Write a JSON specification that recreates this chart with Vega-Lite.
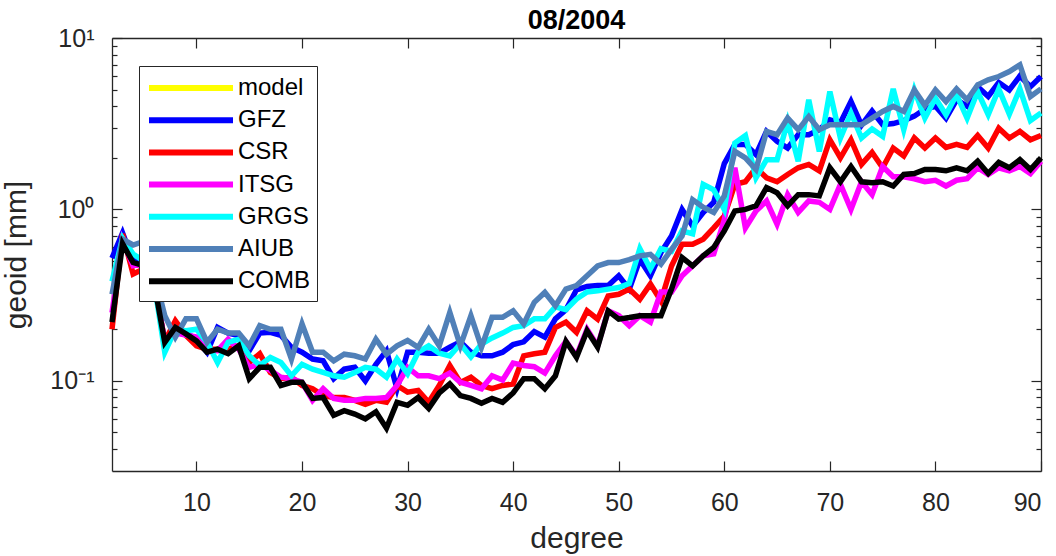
{
"$schema": "https://vega.github.io/schema/vega-lite/v6.json",
"width": 929, "height": 433,
"autosize": {"type": "none"},
"padding": {"left": 112, "top": 38, "right": 15, "bottom": 85},
"title": {"text": "08/2004", "font": "Liberation Sans", "fontSize": 27, "fontWeight": "bold", "color": "#000000", "anchor": "middle", "offset": -9},
"config": {
  "view": {"stroke": null},
  "font": "Liberation Sans",
  "axis": {"grid": false, "domainColor": "#262626", "domainWidth": 1.3, "tickColor": "#262626", "tickWidth": 1.2,
    "labelColor": "#262626", "labelFont": "Liberation Sans", "labelFontSize": 25, "titleColor": "#262626", "titleFont": "Liberation Sans", "titleFontSize": 30, "titleFontWeight": "normal"}
},
"data": {"values": [
{"degree":2,"series":"GFZ","geoid":0.52},{"degree":3,"series":"GFZ","geoid":0.73},{"degree":4,"series":"GFZ","geoid":0.5},{"degree":5,"series":"GFZ","geoid":0.5},{"degree":6,"series":"GFZ","geoid":0.4},{"degree":7,"series":"GFZ","geoid":0.16},{"degree":8,"series":"GFZ","geoid":0.196},{"degree":9,"series":"GFZ","geoid":0.19},{"degree":10,"series":"GFZ","geoid":0.175},{"degree":11,"series":"GFZ","geoid":0.147},
{"degree":12,"series":"GFZ","geoid":0.205},{"degree":13,"series":"GFZ","geoid":0.19},{"degree":14,"series":"GFZ","geoid":0.184},{"degree":15,"series":"GFZ","geoid":0.15},{"degree":16,"series":"GFZ","geoid":0.19},{"degree":17,"series":"GFZ","geoid":0.192},{"degree":18,"series":"GFZ","geoid":0.184},{"degree":19,"series":"GFZ","geoid":0.157},{"degree":20,"series":"GFZ","geoid":0.147},{"degree":21,"series":"GFZ","geoid":0.134},
{"degree":22,"series":"GFZ","geoid":0.131},{"degree":23,"series":"GFZ","geoid":0.103},{"degree":24,"series":"GFZ","geoid":0.117},{"degree":25,"series":"GFZ","geoid":0.12},{"degree":26,"series":"GFZ","geoid":0.1},{"degree":27,"series":"GFZ","geoid":0.125},{"degree":28,"series":"GFZ","geoid":0.15},{"degree":29,"series":"GFZ","geoid":0.09},{"degree":30,"series":"GFZ","geoid":0.147},{"degree":31,"series":"GFZ","geoid":0.147},
{"degree":32,"series":"GFZ","geoid":0.145},{"degree":33,"series":"GFZ","geoid":0.145},{"degree":34,"series":"GFZ","geoid":0.157},{"degree":35,"series":"GFZ","geoid":0.169},{"degree":36,"series":"GFZ","geoid":0.147},{"degree":37,"series":"GFZ","geoid":0.14},{"degree":38,"series":"GFZ","geoid":0.14},{"degree":39,"series":"GFZ","geoid":0.147},{"degree":40,"series":"GFZ","geoid":0.163},{"degree":41,"series":"GFZ","geoid":0.169},
{"degree":42,"series":"GFZ","geoid":0.194},{"degree":43,"series":"GFZ","geoid":0.18},{"degree":44,"series":"GFZ","geoid":0.23},{"degree":45,"series":"GFZ","geoid":0.26},{"degree":46,"series":"GFZ","geoid":0.34},{"degree":47,"series":"GFZ","geoid":0.355},{"degree":48,"series":"GFZ","geoid":0.36},{"degree":49,"series":"GFZ","geoid":0.36},{"degree":50,"series":"GFZ","geoid":0.41},{"degree":51,"series":"GFZ","geoid":0.343},
{"degree":52,"series":"GFZ","geoid":0.51},{"degree":53,"series":"GFZ","geoid":0.41},{"degree":54,"series":"GFZ","geoid":0.56},{"degree":55,"series":"GFZ","geoid":0.7},{"degree":56,"series":"GFZ","geoid":1.0},{"degree":57,"series":"GFZ","geoid":0.8},{"degree":58,"series":"GFZ","geoid":0.96},{"degree":59,"series":"GFZ","geoid":1.1},{"degree":60,"series":"GFZ","geoid":1.85},{"degree":61,"series":"GFZ","geoid":2.39},
{"degree":62,"series":"GFZ","geoid":2.39},{"degree":63,"series":"GFZ","geoid":2.09},{"degree":64,"series":"GFZ","geoid":2.85},{"degree":65,"series":"GFZ","geoid":2.5},{"degree":66,"series":"GFZ","geoid":2.28},{"degree":67,"series":"GFZ","geoid":2.73},{"degree":68,"series":"GFZ","geoid":2.73},{"degree":69,"series":"GFZ","geoid":2.92},{"degree":70,"series":"GFZ","geoid":3.33},{"degree":71,"series":"GFZ","geoid":3.2},
{"degree":72,"series":"GFZ","geoid":4.26},{"degree":73,"series":"GFZ","geoid":3.1},{"degree":74,"series":"GFZ","geoid":3.75},{"degree":75,"series":"GFZ","geoid":3.12},{"degree":76,"series":"GFZ","geoid":3.17},{"degree":77,"series":"GFZ","geoid":3.3},{"degree":78,"series":"GFZ","geoid":3.5},{"degree":79,"series":"GFZ","geoid":3.85},{"degree":80,"series":"GFZ","geoid":4.0},{"degree":81,"series":"GFZ","geoid":3.4},
{"degree":82,"series":"GFZ","geoid":4.36},{"degree":83,"series":"GFZ","geoid":4.0},{"degree":84,"series":"GFZ","geoid":5.2},{"degree":85,"series":"GFZ","geoid":4.56},{"degree":86,"series":"GFZ","geoid":5.5},{"degree":87,"series":"GFZ","geoid":4.98},{"degree":88,"series":"GFZ","geoid":6.0},{"degree":89,"series":"GFZ","geoid":5.2},{"degree":90,"series":"GFZ","geoid":5.96},
{"degree":2,"series":"CSR","geoid":0.2},{"degree":3,"series":"CSR","geoid":0.72},{"degree":4,"series":"CSR","geoid":0.42},{"degree":5,"series":"CSR","geoid":0.45},{"degree":6,"series":"CSR","geoid":0.37},{"degree":7,"series":"CSR","geoid":0.17},{"degree":8,"series":"CSR","geoid":0.224},{"degree":9,"series":"CSR","geoid":0.184},{"degree":10,"series":"CSR","geoid":0.16},{"degree":11,"series":"CSR","geoid":0.153},
{"degree":12,"series":"CSR","geoid":0.153},{"degree":13,"series":"CSR","geoid":0.153},{"degree":14,"series":"CSR","geoid":0.16},{"degree":15,"series":"CSR","geoid":0.128},{"degree":16,"series":"CSR","geoid":0.144},{"degree":17,"series":"CSR","geoid":0.112},{"degree":18,"series":"CSR","geoid":0.103},{"degree":19,"series":"CSR","geoid":0.105},{"degree":20,"series":"CSR","geoid":0.094},{"degree":21,"series":"CSR","geoid":0.09},
{"degree":22,"series":"CSR","geoid":0.082},{"degree":23,"series":"CSR","geoid":0.08},{"degree":24,"series":"CSR","geoid":0.08},{"degree":25,"series":"CSR","geoid":0.077},{"degree":26,"series":"CSR","geoid":0.073},{"degree":27,"series":"CSR","geoid":0.077},{"degree":28,"series":"CSR","geoid":0.075},{"degree":29,"series":"CSR","geoid":0.094},{"degree":30,"series":"CSR","geoid":0.086},{"degree":31,"series":"CSR","geoid":0.088},
{"degree":32,"series":"CSR","geoid":0.075},{"degree":33,"series":"CSR","geoid":0.094},{"degree":34,"series":"CSR","geoid":0.123},{"degree":35,"series":"CSR","geoid":0.098},{"degree":36,"series":"CSR","geoid":0.105},{"degree":37,"series":"CSR","geoid":0.094},{"degree":38,"series":"CSR","geoid":0.09},{"degree":39,"series":"CSR","geoid":0.094},{"degree":40,"series":"CSR","geoid":0.096},{"degree":41,"series":"CSR","geoid":0.14},
{"degree":42,"series":"CSR","geoid":0.144},{"degree":43,"series":"CSR","geoid":0.147},{"degree":44,"series":"CSR","geoid":0.205},{"degree":45,"series":"CSR","geoid":0.22},{"degree":46,"series":"CSR","geoid":0.192},{"degree":47,"series":"CSR","geoid":0.256},{"degree":48,"series":"CSR","geoid":0.229},{"degree":49,"series":"CSR","geoid":0.313},{"degree":50,"series":"CSR","geoid":0.32},{"degree":51,"series":"CSR","geoid":0.343},
{"degree":52,"series":"CSR","geoid":0.299},{"degree":53,"series":"CSR","geoid":0.367},{"degree":54,"series":"CSR","geoid":0.293},{"degree":55,"series":"CSR","geoid":0.468},{"degree":56,"series":"CSR","geoid":0.626},{"degree":57,"series":"CSR","geoid":0.626},{"degree":58,"series":"CSR","geoid":0.67},{"degree":59,"series":"CSR","geoid":0.78},{"degree":60,"series":"CSR","geoid":0.915},{"degree":61,"series":"CSR","geoid":1.4},
{"degree":62,"series":"CSR","geoid":1.45},{"degree":63,"series":"CSR","geoid":1.75},{"degree":64,"series":"CSR","geoid":1.53},{"degree":65,"series":"CSR","geoid":1.45},{"degree":66,"series":"CSR","geoid":1.6},{"degree":67,"series":"CSR","geoid":1.75},{"degree":68,"series":"CSR","geoid":1.83},{"degree":69,"series":"CSR","geoid":1.68},{"degree":70,"series":"CSR","geoid":2.55},{"degree":71,"series":"CSR","geoid":2.0},
{"degree":72,"series":"CSR","geoid":2.55},{"degree":73,"series":"CSR","geoid":1.83},{"degree":74,"series":"CSR","geoid":2.15},{"degree":75,"series":"CSR","geoid":1.75},{"degree":76,"series":"CSR","geoid":2.28},{"degree":77,"series":"CSR","geoid":2.05},{"degree":78,"series":"CSR","geoid":2.61},{"degree":79,"series":"CSR","geoid":2.28},{"degree":80,"series":"CSR","geoid":2.61},{"degree":81,"series":"CSR","geoid":2.3},
{"degree":82,"series":"CSR","geoid":2.4},{"degree":83,"series":"CSR","geoid":2.3},{"degree":84,"series":"CSR","geoid":2.7},{"degree":85,"series":"CSR","geoid":2.28},{"degree":86,"series":"CSR","geoid":2.98},{"degree":87,"series":"CSR","geoid":2.61},{"degree":88,"series":"CSR","geoid":2.85},{"degree":89,"series":"CSR","geoid":2.55},{"degree":90,"series":"CSR","geoid":2.7},
{"degree":2,"series":"ITSG","geoid":0.25},{"degree":3,"series":"ITSG","geoid":0.66},{"degree":4,"series":"ITSG","geoid":0.47},{"degree":5,"series":"ITSG","geoid":0.48},{"degree":6,"series":"ITSG","geoid":0.37},{"degree":7,"series":"ITSG","geoid":0.17},{"degree":8,"series":"ITSG","geoid":0.19},{"degree":9,"series":"ITSG","geoid":0.185},{"degree":10,"series":"ITSG","geoid":0.18},{"degree":11,"series":"ITSG","geoid":0.15},
{"degree":12,"series":"ITSG","geoid":0.15},{"degree":13,"series":"ITSG","geoid":0.175},{"degree":14,"series":"ITSG","geoid":0.153},{"degree":15,"series":"ITSG","geoid":0.12},{"degree":16,"series":"ITSG","geoid":0.125},{"degree":17,"series":"ITSG","geoid":0.115},{"degree":18,"series":"ITSG","geoid":0.105},{"degree":19,"series":"ITSG","geoid":0.103},{"degree":20,"series":"ITSG","geoid":0.098},{"degree":21,"series":"ITSG","geoid":0.077},
{"degree":22,"series":"ITSG","geoid":0.09},{"degree":23,"series":"ITSG","geoid":0.079},{"degree":24,"series":"ITSG","geoid":0.077},{"degree":25,"series":"ITSG","geoid":0.077},{"degree":26,"series":"ITSG","geoid":0.079},{"degree":27,"series":"ITSG","geoid":0.079},{"degree":28,"series":"ITSG","geoid":0.08},{"degree":29,"series":"ITSG","geoid":0.094},{"degree":30,"series":"ITSG","geoid":0.12},{"degree":31,"series":"ITSG","geoid":0.107},
{"degree":32,"series":"ITSG","geoid":0.107},{"degree":33,"series":"ITSG","geoid":0.103},{"degree":34,"series":"ITSG","geoid":0.111},{"degree":35,"series":"ITSG","geoid":0.098},{"degree":36,"series":"ITSG","geoid":0.094},{"degree":37,"series":"ITSG","geoid":0.09},{"degree":38,"series":"ITSG","geoid":0.107},{"degree":39,"series":"ITSG","geoid":0.101},{"degree":40,"series":"ITSG","geoid":0.127},{"degree":41,"series":"ITSG","geoid":0.123},
{"degree":42,"series":"ITSG","geoid":0.121},{"degree":43,"series":"ITSG","geoid":0.111},{"degree":44,"series":"ITSG","geoid":0.14},{"degree":45,"series":"ITSG","geoid":0.17},{"degree":46,"series":"ITSG","geoid":0.14},{"degree":47,"series":"ITSG","geoid":0.2},{"degree":48,"series":"ITSG","geoid":0.16},{"degree":49,"series":"ITSG","geoid":0.256},{"degree":50,"series":"ITSG","geoid":0.24},{"degree":51,"series":"ITSG","geoid":0.21},
{"degree":52,"series":"ITSG","geoid":0.24},{"degree":53,"series":"ITSG","geoid":0.22},{"degree":54,"series":"ITSG","geoid":0.33},{"degree":55,"series":"ITSG","geoid":0.33},{"degree":56,"series":"ITSG","geoid":0.41},{"degree":57,"series":"ITSG","geoid":0.47},{"degree":58,"series":"ITSG","geoid":0.536},{"degree":59,"series":"ITSG","geoid":0.55},{"degree":60,"series":"ITSG","geoid":0.87},{"degree":61,"series":"ITSG","geoid":1.75},
{"degree":62,"series":"ITSG","geoid":0.78},{"degree":63,"series":"ITSG","geoid":0.98},{"degree":64,"series":"ITSG","geoid":1.12},{"degree":65,"series":"ITSG","geoid":0.82},{"degree":66,"series":"ITSG","geoid":1.22},{"degree":67,"series":"ITSG","geoid":0.96},{"degree":68,"series":"ITSG","geoid":1.12},{"degree":69,"series":"ITSG","geoid":1.1},{"degree":70,"series":"ITSG","geoid":1.0},{"degree":71,"series":"ITSG","geoid":1.4},
{"degree":72,"series":"ITSG","geoid":1.0},{"degree":73,"series":"ITSG","geoid":1.45},{"degree":74,"series":"ITSG","geoid":1.22},{"degree":75,"series":"ITSG","geoid":1.78},{"degree":76,"series":"ITSG","geoid":1.55},{"degree":77,"series":"ITSG","geoid":1.55},{"degree":78,"series":"ITSG","geoid":1.51},{"degree":79,"series":"ITSG","geoid":1.45},{"degree":80,"series":"ITSG","geoid":1.48},{"degree":81,"series":"ITSG","geoid":1.37},
{"degree":82,"series":"ITSG","geoid":1.48},{"degree":83,"series":"ITSG","geoid":1.51},{"degree":84,"series":"ITSG","geoid":1.75},{"degree":85,"series":"ITSG","geoid":1.6},{"degree":86,"series":"ITSG","geoid":1.75},{"degree":87,"series":"ITSG","geoid":1.68},{"degree":88,"series":"ITSG","geoid":1.78},{"degree":89,"series":"ITSG","geoid":1.62},{"degree":90,"series":"ITSG","geoid":1.91},
{"degree":2,"series":"GRGS","geoid":0.38},{"degree":3,"series":"GRGS","geoid":0.68},{"degree":4,"series":"GRGS","geoid":0.55},{"degree":5,"series":"GRGS","geoid":0.5},{"degree":6,"series":"GRGS","geoid":0.37},{"degree":7,"series":"GRGS","geoid":0.147},{"degree":8,"series":"GRGS","geoid":0.2},{"degree":9,"series":"GRGS","geoid":0.196},{"degree":10,"series":"GRGS","geoid":0.2},{"degree":11,"series":"GRGS","geoid":0.168},
{"degree":12,"series":"GRGS","geoid":0.128},{"degree":13,"series":"GRGS","geoid":0.168},{"degree":14,"series":"GRGS","geoid":0.175},{"degree":15,"series":"GRGS","geoid":0.14},{"degree":16,"series":"GRGS","geoid":0.123},{"degree":17,"series":"GRGS","geoid":0.137},{"degree":18,"series":"GRGS","geoid":0.128},{"degree":19,"series":"GRGS","geoid":0.107},{"degree":20,"series":"GRGS","geoid":0.125},{"degree":21,"series":"GRGS","geoid":0.117},
{"degree":22,"series":"GRGS","geoid":0.112},{"degree":23,"series":"GRGS","geoid":0.107},{"degree":24,"series":"GRGS","geoid":0.105},{"degree":25,"series":"GRGS","geoid":0.112},{"degree":26,"series":"GRGS","geoid":0.12},{"degree":27,"series":"GRGS","geoid":0.117},{"degree":28,"series":"GRGS","geoid":0.105},{"degree":29,"series":"GRGS","geoid":0.134},{"degree":30,"series":"GRGS","geoid":0.11},{"degree":31,"series":"GRGS","geoid":0.147},
{"degree":32,"series":"GRGS","geoid":0.16},{"degree":33,"series":"GRGS","geoid":0.145},{"degree":34,"series":"GRGS","geoid":0.14},{"degree":35,"series":"GRGS","geoid":0.164},{"degree":36,"series":"GRGS","geoid":0.138},{"degree":37,"series":"GRGS","geoid":0.164},{"degree":38,"series":"GRGS","geoid":0.178},{"degree":39,"series":"GRGS","geoid":0.19},{"degree":40,"series":"GRGS","geoid":0.205},{"degree":41,"series":"GRGS","geoid":0.21},
{"degree":42,"series":"GRGS","geoid":0.23},{"degree":43,"series":"GRGS","geoid":0.23},{"degree":44,"series":"GRGS","geoid":0.27},{"degree":45,"series":"GRGS","geoid":0.26},{"degree":46,"series":"GRGS","geoid":0.3},{"degree":47,"series":"GRGS","geoid":0.33},{"degree":48,"series":"GRGS","geoid":0.335},{"degree":49,"series":"GRGS","geoid":0.343},{"degree":50,"series":"GRGS","geoid":0.35},{"degree":51,"series":"GRGS","geoid":0.37},
{"degree":52,"series":"GRGS","geoid":0.59},{"degree":53,"series":"GRGS","geoid":0.45},{"degree":54,"series":"GRGS","geoid":0.59},{"degree":55,"series":"GRGS","geoid":0.57},{"degree":56,"series":"GRGS","geoid":0.75},{"degree":57,"series":"GRGS","geoid":0.72},{"degree":58,"series":"GRGS","geoid":1.4},{"degree":59,"series":"GRGS","geoid":1.3},{"degree":60,"series":"GRGS","geoid":1.0},{"degree":61,"series":"GRGS","geoid":2.44},
{"degree":62,"series":"GRGS","geoid":2.7},{"degree":63,"series":"GRGS","geoid":1.53},{"degree":64,"series":"GRGS","geoid":1.95},{"degree":65,"series":"GRGS","geoid":1.95},{"degree":66,"series":"GRGS","geoid":3.26},{"degree":67,"series":"GRGS","geoid":1.91},{"degree":68,"series":"GRGS","geoid":4.36},{"degree":69,"series":"GRGS","geoid":2.18},{"degree":70,"series":"GRGS","geoid":4.87},{"degree":71,"series":"GRGS","geoid":2.61},
{"degree":72,"series":"GRGS","geoid":3.65},{"degree":73,"series":"GRGS","geoid":2.61},{"degree":74,"series":"GRGS","geoid":2.95},{"degree":75,"series":"GRGS","geoid":2.67},{"degree":76,"series":"GRGS","geoid":5.05},{"degree":77,"series":"GRGS","geoid":2.92},{"degree":78,"series":"GRGS","geoid":4.98},{"degree":79,"series":"GRGS","geoid":3.41},{"degree":80,"series":"GRGS","geoid":4.46},{"degree":81,"series":"GRGS","geoid":3.57},
{"degree":82,"series":"GRGS","geoid":4.67},{"degree":83,"series":"GRGS","geoid":3.41},{"degree":84,"series":"GRGS","geoid":4.87},{"degree":85,"series":"GRGS","geoid":3.57},{"degree":86,"series":"GRGS","geoid":5.05},{"degree":87,"series":"GRGS","geoid":3.6},{"degree":88,"series":"GRGS","geoid":5.05},{"degree":89,"series":"GRGS","geoid":3.3},{"degree":90,"series":"GRGS","geoid":3.65},
{"degree":2,"series":"AIUB","geoid":0.32},{"degree":3,"series":"AIUB","geoid":0.67},{"degree":4,"series":"AIUB","geoid":0.62},{"degree":5,"series":"AIUB","geoid":0.65},{"degree":6,"series":"AIUB","geoid":0.42},{"degree":7,"series":"AIUB","geoid":0.24},{"degree":8,"series":"AIUB","geoid":0.18},{"degree":9,"series":"AIUB","geoid":0.23},{"degree":10,"series":"AIUB","geoid":0.23},{"degree":11,"series":"AIUB","geoid":0.168},
{"degree":12,"series":"AIUB","geoid":0.2},{"degree":13,"series":"AIUB","geoid":0.19},{"degree":14,"series":"AIUB","geoid":0.19},{"degree":15,"series":"AIUB","geoid":0.16},{"degree":16,"series":"AIUB","geoid":0.21},{"degree":17,"series":"AIUB","geoid":0.2},{"degree":18,"series":"AIUB","geoid":0.2},{"degree":19,"series":"AIUB","geoid":0.134},{"degree":20,"series":"AIUB","geoid":0.215},{"degree":21,"series":"AIUB","geoid":0.147},
{"degree":22,"series":"AIUB","geoid":0.147},{"degree":23,"series":"AIUB","geoid":0.131},{"degree":24,"series":"AIUB","geoid":0.143},{"degree":25,"series":"AIUB","geoid":0.14},{"degree":26,"series":"AIUB","geoid":0.134},{"degree":27,"series":"AIUB","geoid":0.175},{"degree":28,"series":"AIUB","geoid":0.143},{"degree":29,"series":"AIUB","geoid":0.16},{"degree":30,"series":"AIUB","geoid":0.172},{"degree":31,"series":"AIUB","geoid":0.157},
{"degree":32,"series":"AIUB","geoid":0.2},{"degree":33,"series":"AIUB","geoid":0.16},{"degree":34,"series":"AIUB","geoid":0.251},{"degree":35,"series":"AIUB","geoid":0.16},{"degree":36,"series":"AIUB","geoid":0.24},{"degree":37,"series":"AIUB","geoid":0.157},{"degree":38,"series":"AIUB","geoid":0.235},{"degree":39,"series":"AIUB","geoid":0.235},{"degree":40,"series":"AIUB","geoid":0.256},{"degree":41,"series":"AIUB","geoid":0.215},
{"degree":42,"series":"AIUB","geoid":0.287},{"degree":43,"series":"AIUB","geoid":0.328},{"degree":44,"series":"AIUB","geoid":0.274},{"degree":45,"series":"AIUB","geoid":0.343},{"degree":46,"series":"AIUB","geoid":0.36},{"degree":47,"series":"AIUB","geoid":0.41},{"degree":48,"series":"AIUB","geoid":0.468},{"degree":49,"series":"AIUB","geoid":0.49},{"degree":50,"series":"AIUB","geoid":0.49},{"degree":51,"series":"AIUB","geoid":0.51},
{"degree":52,"series":"AIUB","geoid":0.536},{"degree":53,"series":"AIUB","geoid":0.547},{"degree":54,"series":"AIUB","geoid":0.48},{"degree":55,"series":"AIUB","geoid":0.585},{"degree":56,"series":"AIUB","geoid":0.7},{"degree":57,"series":"AIUB","geoid":1.14},{"degree":58,"series":"AIUB","geoid":1.03},{"degree":59,"series":"AIUB","geoid":0.96},{"degree":60,"series":"AIUB","geoid":1.2},{"degree":61,"series":"AIUB","geoid":2.18},
{"degree":62,"series":"AIUB","geoid":2.0},{"degree":63,"series":"AIUB","geoid":1.71},{"degree":64,"series":"AIUB","geoid":2.85},{"degree":65,"series":"AIUB","geoid":2.73},{"degree":66,"series":"AIUB","geoid":3.41},{"degree":67,"series":"AIUB","geoid":2.92},{"degree":68,"series":"AIUB","geoid":3.48},{"degree":69,"series":"AIUB","geoid":2.92},{"degree":70,"series":"AIUB","geoid":3.12},{"degree":71,"series":"AIUB","geoid":3.12},
{"degree":72,"series":"AIUB","geoid":3.12},{"degree":73,"series":"AIUB","geoid":3.12},{"degree":74,"series":"AIUB","geoid":3.41},{"degree":75,"series":"AIUB","geoid":3.73},{"degree":76,"series":"AIUB","geoid":3.99},{"degree":77,"series":"AIUB","geoid":3.73},{"degree":78,"series":"AIUB","geoid":4.98},{"degree":79,"series":"AIUB","geoid":4.05},{"degree":80,"series":"AIUB","geoid":4.98},{"degree":81,"series":"AIUB","geoid":4.26},
{"degree":82,"series":"AIUB","geoid":5.05},{"degree":83,"series":"AIUB","geoid":4.36},{"degree":84,"series":"AIUB","geoid":5.33},{"degree":85,"series":"AIUB","geoid":5.7},{"degree":86,"series":"AIUB","geoid":5.96},{"degree":87,"series":"AIUB","geoid":6.37},{"degree":88,"series":"AIUB","geoid":6.97},{"degree":89,"series":"AIUB","geoid":4.56},{"degree":90,"series":"AIUB","geoid":5.05},
{"degree":2,"series":"COMB","geoid":0.22},{"degree":3,"series":"COMB","geoid":0.63},{"degree":4,"series":"COMB","geoid":0.49},{"degree":5,"series":"COMB","geoid":0.47},{"degree":6,"series":"COMB","geoid":0.37},{"degree":7,"series":"COMB","geoid":0.168},{"degree":8,"series":"COMB","geoid":0.205},{"degree":9,"series":"COMB","geoid":0.188},{"degree":10,"series":"COMB","geoid":0.171},{"degree":11,"series":"COMB","geoid":0.147},
{"degree":12,"series":"COMB","geoid":0.153},{"degree":13,"series":"COMB","geoid":0.144},{"degree":14,"series":"COMB","geoid":0.16},{"degree":15,"series":"COMB","geoid":0.103},{"degree":16,"series":"COMB","geoid":0.12},{"degree":17,"series":"COMB","geoid":0.12},{"degree":18,"series":"COMB","geoid":0.094},{"degree":19,"series":"COMB","geoid":0.098},{"degree":20,"series":"COMB","geoid":0.098},{"degree":21,"series":"COMB","geoid":0.079},
{"degree":22,"series":"COMB","geoid":0.08},{"degree":23,"series":"COMB","geoid":0.063},{"degree":24,"series":"COMB","geoid":0.067},{"degree":25,"series":"COMB","geoid":0.064},{"degree":26,"series":"COMB","geoid":0.06},{"degree":27,"series":"COMB","geoid":0.066},{"degree":28,"series":"COMB","geoid":0.053},{"degree":29,"series":"COMB","geoid":0.075},{"degree":30,"series":"COMB","geoid":0.072},{"degree":31,"series":"COMB","geoid":0.08},
{"degree":32,"series":"COMB","geoid":0.069},{"degree":33,"series":"COMB","geoid":0.085},{"degree":34,"series":"COMB","geoid":0.096},{"degree":35,"series":"COMB","geoid":0.082},{"degree":36,"series":"COMB","geoid":0.079},{"degree":37,"series":"COMB","geoid":0.074},{"degree":38,"series":"COMB","geoid":0.079},{"degree":39,"series":"COMB","geoid":0.075},{"degree":40,"series":"COMB","geoid":0.085},{"degree":41,"series":"COMB","geoid":0.103},
{"degree":42,"series":"COMB","geoid":0.103},{"degree":43,"series":"COMB","geoid":0.09},{"degree":44,"series":"COMB","geoid":0.107},{"degree":45,"series":"COMB","geoid":0.17},{"degree":46,"series":"COMB","geoid":0.137},{"degree":47,"series":"COMB","geoid":0.196},{"degree":48,"series":"COMB","geoid":0.157},{"degree":49,"series":"COMB","geoid":0.256},{"degree":50,"series":"COMB","geoid":0.229},{"degree":51,"series":"COMB","geoid":0.234},
{"degree":52,"series":"COMB","geoid":0.24},{"degree":53,"series":"COMB","geoid":0.24},{"degree":54,"series":"COMB","geoid":0.24},{"degree":55,"series":"COMB","geoid":0.343},{"degree":56,"series":"COMB","geoid":0.524},{"degree":57,"series":"COMB","geoid":0.468},{"degree":58,"series":"COMB","geoid":0.536},{"degree":59,"series":"COMB","geoid":0.6},{"degree":60,"series":"COMB","geoid":0.75},{"degree":61,"series":"COMB","geoid":0.98},
{"degree":62,"series":"COMB","geoid":1.0},{"degree":63,"series":"COMB","geoid":1.05},{"degree":64,"series":"COMB","geoid":1.34},{"degree":65,"series":"COMB","geoid":1.25},{"degree":66,"series":"COMB","geoid":1.05},{"degree":67,"series":"COMB","geoid":1.22},{"degree":68,"series":"COMB","geoid":1.22},{"degree":69,"series":"COMB","geoid":1.2},{"degree":70,"series":"COMB","geoid":1.75},{"degree":71,"series":"COMB","geoid":1.45},
{"degree":72,"series":"COMB","geoid":1.78},{"degree":73,"series":"COMB","geoid":1.45},{"degree":74,"series":"COMB","geoid":1.43},{"degree":75,"series":"COMB","geoid":1.45},{"degree":76,"series":"COMB","geoid":1.37},{"degree":77,"series":"COMB","geoid":1.6},{"degree":78,"series":"COMB","geoid":1.62},{"degree":79,"series":"COMB","geoid":1.71},{"degree":80,"series":"COMB","geoid":1.71},{"degree":81,"series":"COMB","geoid":1.68},
{"degree":82,"series":"COMB","geoid":1.75},{"degree":83,"series":"COMB","geoid":1.68},{"degree":84,"series":"COMB","geoid":1.91},{"degree":85,"series":"COMB","geoid":1.62},{"degree":86,"series":"COMB","geoid":1.88},{"degree":87,"series":"COMB","geoid":1.75},{"degree":88,"series":"COMB","geoid":1.95},{"degree":89,"series":"COMB","geoid":1.71},{"degree":90,"series":"COMB","geoid":2.0}
]},
"layer": [
  {
    "mark": {"type": "line", "strokeWidth": 5.5},
    "encoding": {
      "x": {"field": "degree", "type": "quantitative", "scale": {"domain": [2, 90], "nice": false, "zero": false},
        "axis": {"orient": "bottom", "values": [10,20,30,40,50,60,70,80,90], "tickSize": -10, "labelPadding": 29, "title": "degree", "titlePadding": 8}},
      "y": {"field": "geoid", "type": "quantitative", "scale": {"type": "log", "domain": [0.0298, 10], "nice": false},
        "axis": {"orient": "left", "values": [0.1, 1, 10], "tickSize": -10, "labelPadding": 28, "labelExpr": "datum.value < 0.5 ? '10⁻¹' : datum.value < 5 ? '10⁰' : '10¹'", "title": "geoid [mm]", "titlePadding": 18}},
      "color": {"field": "series", "type": "nominal",
        "scale": {"domain": ["model", "GFZ", "CSR", "ITSG", "GRGS", "AIUB", "COMB"], "range": ["#ffff00", "#0000ff", "#ff0000", "#ff00ff", "#00ffff", "#5080b8", "#000000"]},
        "legend": {"orient": "none", "legendX": 27, "legendY": 28, "title": null, "symbolType": "M-1,0H6", "symbolSize": 576, "symbolStrokeWidth": 6,
          "labelFont": "Liberation Sans", "labelFontSize": 24, "labelColor": "#000000", "labelOffset": 62, "labelLimit": 0, "rowPadding": 5.2,
          "padding": 7, "strokeColor": "#262626", "fillColor": "#ffffff"}}
    }
  },
  {
    "mark": {"type": "line", "opacity": 0},
    "encoding": {
      "x": {"field": "degree", "type": "quantitative", "axis": {"orient": "top", "values": [10,20,30,40,50,60,70,80,90], "tickSize": -10, "labels": false, "title": null}},
      "y": {"field": "geoid", "type": "quantitative", "axis": {"orient": "right", "values": [0.1, 1, 10], "tickSize": -10, "labels": false, "title": null}}
    }
  },
  {
    "mark": {"type": "line", "opacity": 0},
    "encoding": {
      "x": {"field": "degree", "type": "quantitative", "axis": null},
      "y": {"field": "geoid", "type": "quantitative", "axis": {"orient": "left", "values": [0.04,0.05,0.06,0.07,0.08,0.09,0.2,0.3,0.4,0.5,0.6,0.7,0.8,0.9,2,3,4,5,6,7,8,9], "tickSize": -5, "labels": false, "domain": false, "title": null}}
    }
  },
  {
    "mark": {"type": "line", "opacity": 0},
    "encoding": {
      "x": {"field": "degree", "type": "quantitative", "axis": null},
      "y": {"field": "geoid", "type": "quantitative", "axis": {"orient": "right", "values": [0.04,0.05,0.06,0.07,0.08,0.09,0.2,0.3,0.4,0.5,0.6,0.7,0.8,0.9,2,3,4,5,6,7,8,9], "tickSize": -5, "labels": false, "domain": false, "title": null}}
    }
  }
],
"resolve": {"axis": {"x": "independent", "y": "independent"}}
}
